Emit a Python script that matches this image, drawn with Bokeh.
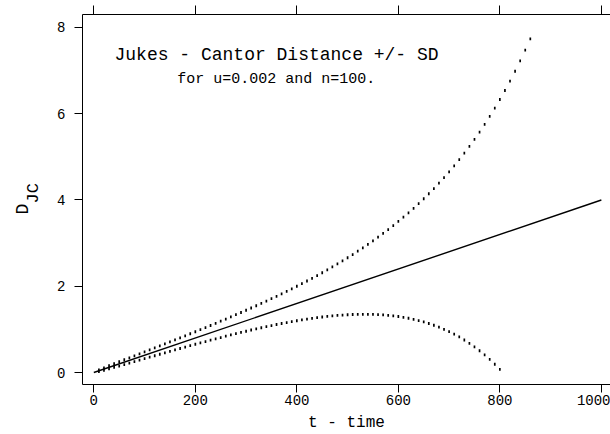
import math
from bokeh.plotting import figure
from bokeh.layouts import row
from bokeh.models import (Range1d, LinearAxis, FixedTicker, Label,
                          ColumnDataSource, CustomJSTickFormatter)
from bokeh.core.properties import value
from bokeh.embed import file_html
from bokeh.resources import INLINE

# ---- data ----
t_line = [0, 1000]
d_line = [0.0, 4.0]

t_upper = [10, 20, 30, 40, 50, 60, 70, 80, 90, 100,
           110, 120, 130, 140, 150, 160, 170, 180, 190, 200,
           210, 220, 230, 240, 250, 260, 270, 280, 290, 300,
           310, 320, 330, 340, 350, 360, 370, 380, 390, 400,
           410, 420, 430, 440, 450, 460, 470, 480, 490, 500,
           510, 520, 530, 540, 550, 560, 570, 580, 590, 600,
           610, 620, 630, 640, 650, 660, 670, 680, 690, 700,
           710, 720, 730, 740, 750, 760, 770, 780, 790, 800,
           810, 820, 830, 840, 850, 860]
upper = [0.060, 0.109, 0.157, 0.203, 0.250, 0.296, 0.341, 0.387, 0.433, 0.479,
         0.525, 0.571, 0.617, 0.663, 0.710, 0.756, 0.803, 0.850, 0.898, 0.945,
         0.993, 1.042, 1.090, 1.139, 1.189, 1.239, 1.289, 1.340, 1.391, 1.443,
         1.495, 1.548, 1.602, 1.656, 1.712, 1.767, 1.824, 1.882, 1.940, 2.000,
         2.060, 2.122, 2.184, 2.248, 2.313, 2.380, 2.448, 2.517, 2.588, 2.661,
         2.735, 2.812, 2.890, 2.970, 3.053, 3.137, 3.225, 3.314, 3.407, 3.502,
         3.601, 3.702, 3.807, 3.916, 4.028, 4.144, 4.264, 4.389, 4.518, 4.652,
         4.791, 4.936, 5.087, 5.243, 5.406, 5.575, 5.752, 5.936, 6.128, 6.329,
         6.538, 6.756, 6.984, 7.223, 7.473, 7.733]

t_lower = [10, 20, 30, 40, 50, 60, 70, 80, 90, 100,
           110, 120, 130, 140, 150, 160, 170, 180, 190, 200,
           210, 220, 230, 240, 250, 260, 270, 280, 290, 300,
           310, 320, 330, 340, 350, 360, 370, 380, 390, 400,
           410, 420, 430, 440, 450, 460, 470, 480, 490, 500,
           510, 520, 530, 540, 550, 560, 570, 580, 590, 600,
           610, 620, 630, 640, 650, 660, 670, 680, 690, 700,
           710, 720, 730, 740, 750, 760, 770, 780, 790, 800]
lower = [0.020, 0.051, 0.083, 0.117, 0.150, 0.184, 0.219, 0.253, 0.287, 0.321,
         0.355, 0.389, 0.423, 0.457, 0.490, 0.524, 0.557, 0.590, 0.622, 0.655,
         0.687, 0.718, 0.750, 0.781, 0.811, 0.842, 0.871, 0.900, 0.929, 0.957,
         0.985, 1.012, 1.038, 1.064, 1.089, 1.113, 1.136, 1.158, 1.180, 1.200,
         1.220, 1.238, 1.256, 1.272, 1.287, 1.300, 1.312, 1.323, 1.332, 1.339,
         1.345, 1.349, 1.350, 1.350, 1.348, 1.343, 1.335, 1.326, 1.313, 1.298,
         1.279, 1.258, 1.233, 1.205, 1.172, 1.136, 1.096, 1.051, 1.002, 0.948,
         0.889, 0.824, 0.754, 0.677, 0.594, 0.505, 0.408, 0.304, 0.192, 0.071]

x_ticks = [0, 200, 400, 600, 800, 1000]
y_ticks = [0, 2, 4, 6, 8]

title_text = "Jukes - Cantor Distance +/- SD"
subtitle_text = "for u=0.002 and n=100."
x_label = "t - time"
y_label_main = "D"
y_label_sub = "JC"

FONT = "Liberation Mono"
LABEL_W = 50          # width of the narrow strip holding the y-axis title
H = 434
FRAME_TOP = 14        # frame edges of the main plot, in page pixels
FRAME_BOTTOM = 384

# ---- narrow strip with the rotated y-axis title D_JC ----
# (the row aligns this strip's frame with the main frame, so its y range
#  covers the same pixel rows: data y = H - pixel row)
lab = figure(width=LABEL_W, height=H, output_backend="svg", toolbar_location=None,
             x_range=Range1d(0, LABEL_W),
             y_range=Range1d(H - FRAME_BOTTOM, H - FRAME_TOP),
             x_axis_location=None, y_axis_location=None,
             min_border_left=0, min_border_right=0, min_border_top=FRAME_TOP,
             min_border_bottom=H - FRAME_BOTTOM)
lab.outline_line_color = None
lab.grid.grid_line_color = None
lab.background_fill_color = "white"
lab.border_fill_color = "white"
lab.text(x=[22.2], y=[H - 208.6], text=[y_label_main], angle=math.pi / 2,
         text_align="center", text_baseline="middle",
         text_font=value(FONT), text_font_size=value("18px"), text_color="black")
lab.text(x=[33.0], y=[H - 192.8], text=[y_label_sub], angle=math.pi / 2,
         text_align="center", text_baseline="middle",
         text_font=value(FONT), text_font_size=value("17px"), text_color="black")

# ---- main plot ----
p = figure(width=610 - LABEL_W, height=H, output_backend="svg", toolbar_location=None,
           x_range=Range1d(-22.3, 1018), y_range=Range1d(-0.278, 8.30),
           x_axis_location=None, y_axis_location=None,
           min_border_left=82 - LABEL_W, min_border_right=0,
           min_border_top=FRAME_TOP, min_border_bottom=H - FRAME_BOTTOM)
p.outline_line_color = None
p.background_fill_color = "white"
p.border_fill_color = "white"
p.grid.grid_line_color = None


def style_axis(ax, tick_out, font_size, standoff):
    ax.axis_line_color = "black"
    ax.axis_line_width = 1
    ax.major_tick_line_color = "black"
    ax.major_tick_line_width = 1
    ax.major_tick_out = tick_out
    ax.major_tick_in = 0
    ax.minor_tick_line_color = None
    ax.major_label_text_font = FONT
    ax.major_label_text_font_size = font_size
    ax.major_label_text_color = "black"
    ax.major_label_standoff = standoff


bottom = LinearAxis(ticker=FixedTicker(ticks=x_ticks), axis_label=x_label)
style_axis(bottom, 8, "14px", 2)
bottom.axis_label_text_font = FONT
bottom.axis_label_text_font_size = "16px"
bottom.axis_label_text_font_style = "normal"
bottom.axis_label_text_color = "black"
bottom.axis_label_standoff = 6
p.add_layout(bottom, "below")

top = LinearAxis(ticker=FixedTicker(ticks=x_ticks),
                 formatter=CustomJSTickFormatter(code="return ''"))
style_axis(top, 9, "14px", 0)
p.add_layout(top, "above")

left = LinearAxis(ticker=FixedTicker(ticks=y_ticks))
style_axis(left, 8, "14px", 9)
p.add_layout(left, "left")

# main line
p.line(t_line, d_line, line_color="black", line_width=1.4)

# +/- SD dotted curves
src_u = ColumnDataSource(dict(t=t_upper, v=upper))
src_l = ColumnDataSource(dict(t=t_lower, v=lower))
for src in (src_u, src_l):
    p.rect(x="t", y="v", width=1.7, height=2.8, width_units="screen",
           height_units="screen", fill_color="black", line_color=None, source=src)

# texts inside the plot
p.add_layout(Label(x=360, y=7.35, text=title_text, text_align="center",
                   text_baseline="alphabetic", text_font=FONT,
                   text_font_size="18px", text_color="black"))
p.add_layout(Label(x=359.5, y=6.79, text=subtitle_text, text_align="center",
                   text_baseline="alphabetic", text_font=FONT,
                   text_font_size="15px", text_color="black"))

layout = row(lab, p, spacing=0)
open("out.html", "w").write(file_html(layout, INLINE))
